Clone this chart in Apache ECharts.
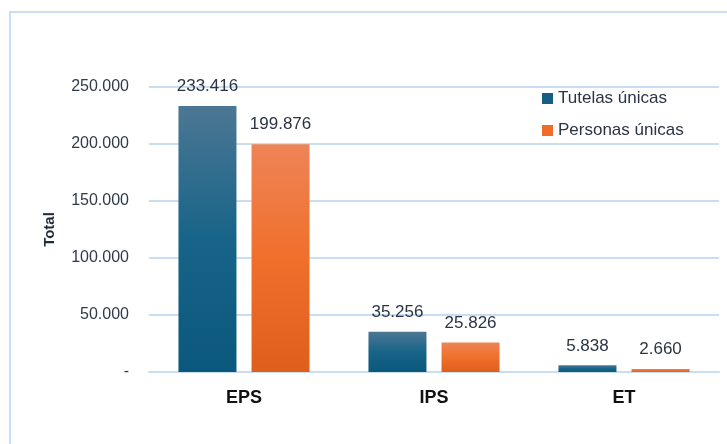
<!DOCTYPE html>
<html>
<head>
    <meta charset="UTF-8">
    <title>Tutelas y personas únicas</title>
    <script src="https://cdn.jsdelivr.net/npm/echarts@6/dist/echarts.min.js"></script>
    <style>
        body { margin: 0; background: #fff; }
        #frame { position: absolute; left: 9px; top: 11px; width: 760px; height: 500px;
                 border-left: 2px solid #c9def2; border-top: 2px solid #c9def2; }
        #main { position: absolute; left: 0; top: 0; width: 727px; height: 444px; }
    </style>
</head>
<body>
<div id="frame"></div>
<div id="main"></div>
<script type="text/javascript">
    // datos
    var categorias = ['EPS', 'IPS', 'ET'];
    var tutelasUnicas = [233416, 35256, 5838];
    var personasUnicas = [199876, 25826, 2660];
    var ticksY = [0, 50000, 100000, 150000, 200000, 250000];

    function miles(v) {
        if (v === 0) return '-';
        return String(v).replace(/\B(?=(\d{3})+(?!\d))/g, '.');
    }

    function degradado(arriba, medio, abajo) {
        return new echarts.graphic.LinearGradient(0, 0, 0, 1, [
            {offset: 0, color: arriba},
            {offset: 0.5, color: medio},
            {offset: 1, color: abajo}
        ]);
    }

    var myChart = echarts.init(document.getElementById('main'));
    var fuente = '"Liberation Sans", Arial, sans-serif';

    var option = {
        animation: false,
        textStyle: {fontFamily: fuente},
        grid: {left: 149, right: 8, top: 87, bottom: 72},
        legend: {
            orient: 'vertical',
            left: 537,
            top: 85,
            itemGap: 15,
            itemWidth: 11,
            itemHeight: 11,
            icon: 'rect',
            textStyle: {fontSize: 17, color: '#2b3445', fontFamily: fuente},
            data: [
                {name: 'Tutelas únicas', itemStyle: {color: '#155f85'}},
                {name: 'Personas únicas', itemStyle: {color: '#ef6c2a'}}
            ]
        },
        xAxis: {
            type: 'category',
            data: categorias,
            axisTick: {show: false},
            axisLine: {lineStyle: {color: '#c9def2', width: 2}},
            axisLabel: {margin: 17, fontSize: 18, fontWeight: 'bold', color: '#111'}
        },
        yAxis: {
            type: 'value',
            min: ticksY[0],
            max: ticksY[ticksY.length - 1],
            interval: 50000,
            name: 'Total',
            nameLocation: 'middle',
            nameGap: 92,
            nameTextStyle: {fontSize: 15, fontWeight: 'bold', color: '#1f2a3a'},
            axisLine: {show: false},
            axisTick: {show: false},
            splitLine: {lineStyle: {color: '#c9def2', width: 2}},
            axisLabel: {margin: 20, fontSize: 16, color: '#2f3a4b', formatter: miles}
        },
        series: [
            {
                name: 'Tutelas únicas',
                type: 'bar',
                data: tutelasUnicas,
                barWidth: 58,
                barGap: '26%',
                itemStyle: {color: degradado('#4c7793', '#176488', '#0b587d')},
                label: {show: true, position: 'top', distance: 11, fontSize: 17, color: '#2b3445', formatter: function (p) { return miles(p.value); }}
            },
            {
                name: 'Personas únicas',
                type: 'bar',
                data: personasUnicas,
                barWidth: 58,
                itemStyle: {color: degradado('#ee8457', '#f06f2b', '#e05e1c')},
                label: {show: true, position: 'top', distance: 11, fontSize: 17, color: '#2b3445', formatter: function (p) { return miles(p.value); }}
            }
        ]
    };

    myChart.setOption(option);
</script>
</body>
</html>
